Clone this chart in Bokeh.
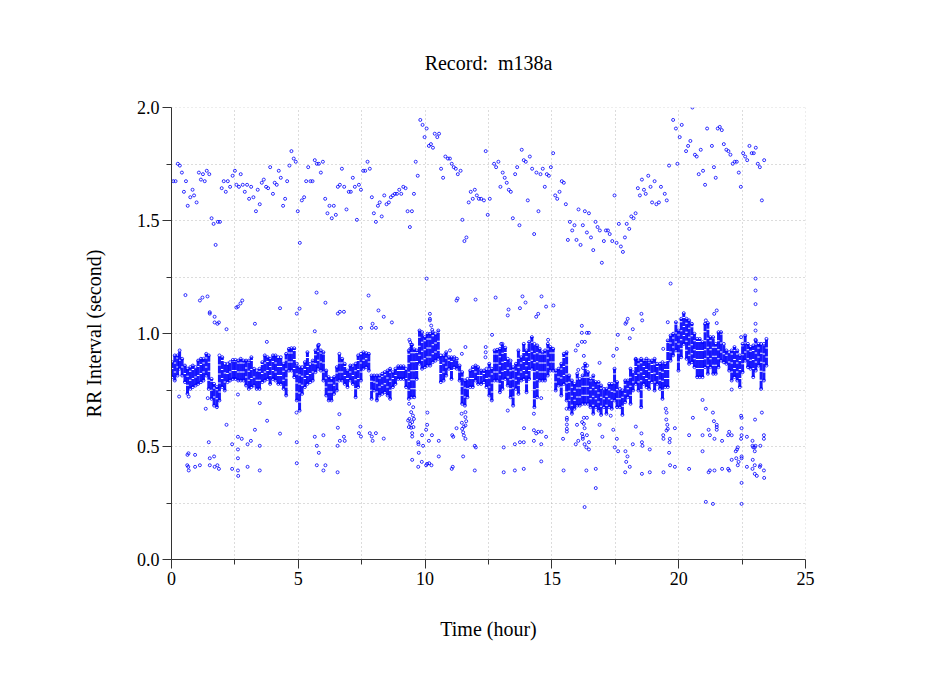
from bokeh.core.properties import value
from bokeh.embed import file_html
from bokeh.models import CustomJSTickFormatter, FixedTicker, Range1d, Span
from bokeh.plotting import figure
from bokeh.resources import INLINE

title_text = "Record:\u00a0 m138a"
x_label = "Time (hour)"
y_label = "RR Interval (second)"
x_major = [0, 5, 10, 15, 20, 25]
x_minor = [2.5, 7.5, 12.5, 17.5, 22.5]
y_major = [0.0, 0.5, 1.0, 1.5, 2.0]
y_minor = [0.25, 0.75, 1.25, 1.75]

band_hours = [
    .03, .13, .24, .32, .42, .53, .63, .74, .84, .95,
    1.05, 1.16, 1.26, 1.37, 1.47, 1.58, 1.68, 1.79, 1.89, 2.0,
    2.1, 2.21, 2.31, 2.42, 2.52, 2.63, 2.73, 2.84, 2.94, 3.05,
    3.15, 3.26, 3.36, 3.47, 3.58, 3.68, 3.79, 3.89, 4.0, 4.1,
    4.21, 4.31, 4.42, 4.52, 4.63, 4.73, 4.84, 4.94, 5.05, 5.15,
    5.26, 5.36, 5.47, 5.57, 5.68, 5.78, 5.89, 5.99, 6.1, 6.2,
    6.31, 6.41, 6.52, 6.62, 6.73, 6.83, 6.94, 7.05, 7.15, 7.26,
    7.36, 7.47, 7.57, 7.68, 7.78, 7.89, 7.99, 8.1, 8.2, 8.31,
    8.41, 8.52, 8.62, 8.73, 8.83, 8.94, 9.04, 9.15, 9.25, 9.36,
    9.46, 9.57, 9.67, 9.78, 9.88, 9.99, 10.09, 10.2, 10.3, 10.41,
    10.52, 10.62, 10.73, 10.83, 10.94, 11.04, 11.15, 11.25, 11.36, 11.46,
    11.57, 11.67, 11.78, 11.88, 11.99, 12.09,
    12.21, 12.32, 12.42, 12.53, 12.63, 12.74, 12.84, 12.95, 13.05, 13.16,
    13.26, 13.37, 13.47, 13.58, 13.68, 13.79, 13.89, 14.0, 14.1, 14.21,
    14.31, 14.42, 14.52, 14.63, 14.73, 14.84, 14.94, 15.05, 15.15, 15.26,
    15.37, 15.47, 15.58, 15.68, 15.79, 15.89, 16.0, 16.1, 16.21, 16.31,
    16.42, 16.52, 16.63, 16.73, 16.84, 16.94, 17.05, 17.15, 17.26, 17.36,
    17.47, 17.57, 17.68, 17.78, 17.89, 17.99, 18.1, 18.2, 18.31, 18.41,
    18.52, 18.62, 18.73, 18.83, 18.94, 19.05, 19.15, 19.26, 19.36, 19.47,
    19.57, 19.68, 19.78, 19.89, 19.99, 20.1, 20.2, 20.31, 20.41, 20.52,
    20.62, 20.73, 20.83, 20.94, 21.04, 21.15, 21.25, 21.36, 21.46, 21.57,
    21.67, 21.78, 21.88, 21.99, 22.09, 22.2, 22.31, 22.41, 22.52, 22.62,
    22.73, 22.83, 22.94, 23.04, 23.15, 23.25, 23.36, 23.46,
]
band_high = [
    .873, .903, .903, .925, .888, .858, .844, .851, .858, .851,
    .880, .888, .888, .910, .903, .799, .777, .763, .903, .895,
    .866, .866, .873, .883, .883, .880, .888, .880, .880, .880,
    .895, .844, .836, .844, .873, .903, .895, .888, .903, .903,
    .895, .895, .866, .910, .932, .935, .935, .866, .851, .851,
    .873, .917, .866, .880, .925, .947, .925, .917, .836, .807,
    .799, .807, .851, .910, .888, .866, .836, .858, .858, .866,
    .903, .910, .917, .913, .910, .814, .814, .814, .814, .822,
    .829, .836, .844, .829, .844, .855, .855, .855, .844, .925,
    .950, .930, .925, 1.013, 1.006, .984, .999, .999, 1.006, .999,
    1.013, .903, .903, .917, .895, .895, .895, .888, .858, .829,
    .792, .799, .836, .851, .858, .851,
    .836, .836, .844, .866, .844, .925, .928, .932, .954, .937,
    .888, .880, .851, .866, .925, .895, .954, .925, .962, .984,
    .954, .947, .932, .917, .925, .954, .940, .932, .836, .844,
    .866, .910, .917, .814, .792, .777, .822, .799, .814, .866,
    .829, .799, .814, .785, .785, .770, .755, .755, .777, .777,
    .844, .785, .755, .748, .792, .792, .844, .829, .888, .880,
    .888, .880, .888, .880, .880, .888, .866, .866, .873, .866,
    .969, .991, .999, 1.050, 1.013, 1.065, 1.090, 1.065, 1.058, 1.043,
    .999, .976, .976, .962, 1.043, 1.046, .984, .984, .954, 1.006,
    1.006, .954, .925, .917, .925, .940, .925, .903, .954, .991,
    .954, .940, .947, .969, .954, .954, .954, .976,
]
band_low = [
    .807, .792, .814, .844, .814, .785, .733, .755, .763, .770,
    .777, .785, .792, .814, .755, .711, .681, .674, .704, .763,
    .748, .785, .792, .799, .799, .792, .792, .792, .770, .755,
    .763, .770, .755, .755, .785, .792, .799, .777, .799, .792,
    .777, .777, .755, .726, .836, .836, .807, .704, .659, .733,
    .763, .777, .785, .792, .829, .844, .836, .792, .726, .704,
    .704, .733, .748, .792, .792, .777, .763, .792, .777, .718,
    .763, .792, .844, .851, .836, .711, .748, .704, .726, .733,
    .740, .726, .711, .763, .777, .799, .799, .799, .763, .711,
    .718, .718, .799, .866, .844, .851, .858, .858, .873, .880,
    .888, .785, .792, .814, .844, .799, .851, .844, .792, .689,
    .681, .718, .763, .763, .792, .777,
    .777, .785, .763, .726, .704, .792, .792, .740, .755, .799,
    .770, .718, .681, .755, .733, .792, .799, .740, .799, .844,
    .674, .718, .792, .792, .792, .814, .836, .836, .748, .770,
    .726, .777, .704, .667, .645, .667, .681, .681, .689, .689,
    .689, .674, .645, .674, .659, .640, .674, .645, .674, .667,
    .704, .674, .674, .640, .696, .718, .689, .748, .777, .748,
    .674, .777, .763, .755, .785, .748, .777, .755, .711, .763,
    .763, .880, .903, .925, .836, .895, .954, .888, .866, .873,
    .851, .807, .807, .807, .851, .822, .851, .822, .822, .851,
    .880, .873, .866, .836, .792, .807, .792, .763, .829, .880,
    .851, .844, .807, .836, .858, .755, .792, .858,
]

upper_hours = [
    .07, .16, .25, .33, .41, .49, .57, .64, .74, .83, .89, .99, 1.08, 1.16, 1.24, 1.31, 1.39, 1.49, 1.58, 1.66,
    1.74, 1.83, 1.91, 1.98, 2.06, 2.14, 2.22, 2.31, 2.41, 2.50, 2.56, 2.66, 2.73, 2.81, 2.89, 2.98, 3.06, 3.14, 3.23, 3.33,
    3.40, 3.48, 3.56, 3.64, 3.73, 3.81, 3.89, 4.0, 4.07, 4.15, 4.23, 4.31, 4.40, 4.48, 4.56, 4.65, 4.73, 4.82, 4.90, 4.98,
    5.06, 5.14, 5.23, 5.31, 5.39, 5.48, 5.56, 5.65, 5.73, 5.81, 5.89, 5.97, 6.06, 6.15, 6.23, 6.32, 6.40, 6.48, 6.56, 6.64,
    6.72, 6.81, 6.90, 6.99, 7.07, 7.15, 7.23, 7.31, 7.39, 7.47, 7.56, 7.64, 7.73, 7.82, 7.90, 7.98, 8.06, 8.14, 8.21, 8.29,
    8.39, 8.48, 8.57, 8.65, 8.73, 8.81, 8.89, 8.98, 9.06, 9.14, 9.23, 9.31, 9.40, 9.48, 9.56, 9.63, 9.71, 9.81, 9.90, 9.98,
    10.06, 10.15, 10.23, 10.31, 10.38, 10.48, 10.55, 10.63, 10.71, 10.80, 10.90, 10.98, 11.05, 11.13, 11.21, 11.29, 11.40, 11.47, 11.55, 11.63,
    11.72, 11.80, 11.88, 11.96, 12.04, 12.12,
    12.21, 12.32, 12.39, 12.47, 12.55, 12.72, 12.80, 12.89, 12.97, 13.06, 13.14, 13.22, 13.30, 13.38, 13.46, 13.55, 13.63, 13.72, 13.81, 13.89,
    13.97, 14.05, 14.13, 14.22, 14.30, 14.39, 14.47, 14.55, 14.64, 14.72, 14.80, 14.88, 14.96, 15.05, 15.13, 15.21, 15.30, 15.39, 15.47, 15.55,
    15.63, 15.71, 15.80, 15.89, 15.97, 16.05, 16.13, 16.22, 16.30, 16.38, 16.46, 16.54, 16.63, 16.72, 16.80, 16.89, 16.97, 17.05, 17.13, 17.21,
    17.28, 17.38, 17.47, 17.55, 17.64, 17.72, 17.80, 17.88, 17.95, 18.05, 18.13, 18.22, 18.30, 18.39, 18.47, 18.55, 18.63, 18.70, 18.80, 18.89,
    18.95, 19.05, 19.12, 19.22, 19.30, 19.45, 19.53, 19.62, 19.78, 19.89, 19.95, 20.04, 20.12, 20.29, 20.37, 20.46, 20.54, 20.64, 20.71, 20.79,
    20.87, 20.96, 21.04, 21.12, 21.31, 21.39, 21.46, 21.54, 21.62, 21.70, 21.78, 21.88, 21.96, 22.04, 22.13, 22.21, 22.29, 22.37, 22.45, 22.54,
    22.62, 22.70, 22.79, 22.88, 22.96, 23.04, 23.12, 23.20, 23.28, 23.37,
]
upper_rr = [
    1.674, 1.674, 1.751, 1.743, 1.712, 1.627, 1.674, 1.565, 1.603, 1.636, 1.611, 1.580, 1.712, 1.681, 1.705, 1.674, 1.720, 1.705, 1.510, 1.485,
    1.392, 1.494, 1.494, 1.643, 1.674, 1.627, 1.674, 1.649, 1.698, 1.720, 1.658, 1.649, 1.705, 1.658, 1.627, 1.658, 1.596, 1.649, 1.603, 1.541,
    1.636, 1.572, 1.667, 1.681, 1.649, 1.643, 1.736, 1.618, 1.667, 1.658, 1.720, 1.689, 1.565, 1.596, 1.674, 1.743, 1.807, 1.774, 1.760, 1.541,
    1.401, 1.589, 1.603, 1.674, 1.736, 1.674, 1.674, 1.767, 1.751, 1.751, 1.712, 1.760, 1.596, 1.532, 1.565, 1.510, 1.565, 1.525, 1.649, 1.658,
    1.729, 1.649, 1.549, 1.627, 1.627, 1.689, 1.649, 1.503, 1.658, 1.636, 1.720, 1.720, 1.760, 1.729, 1.603, 1.532, 1.494, 1.565, 1.580, 1.518,
    1.611, 1.572, 1.580, 1.603, 1.611, 1.618, 1.618, 1.636, 1.618, 1.649, 1.643, 1.541, 1.471, 1.541, 1.618, 1.760, 1.698, 1.945, 1.923, 1.869,
    1.907, 1.830, 1.838, 1.822, 1.884, 1.869, 1.884, 1.729, 1.689, 1.783, 1.774, 1.774, 1.751, 1.736, 1.729, 1.705, 1.720, 1.503, 1.409, 1.425,
    1.580, 1.627, 1.596, 1.636, 1.611, 1.596,
    1.596, 1.589, 1.807, 1.525, 1.596, 1.751, 1.736, 1.760, 1.649, 1.712, 1.689, 1.667, 1.636, 1.627, 1.510, 1.705, 1.736, 1.479, 1.813, 1.767,
    1.760, 1.589, 1.783, 1.729, 1.440, 1.712, 1.541, 1.705, 1.729, 1.649, 1.705, 1.698, 1.736, 1.798, 1.611, 1.596, 1.627, 1.674, 1.667, 1.572,
    1.414, 1.494, 1.456, 1.479, 1.414, 1.549, 1.392, 1.479, 1.541, 1.447, 1.532, 1.425, 1.369, 1.494, 1.471, 1.456, 1.313, 1.409, 1.456, 1.456,
    1.440, 1.409, 1.611, 1.401, 1.485, 1.385, 1.361, 1.425, 1.485, 1.463, 1.518, 1.510, 1.532, 1.643, 1.611, 1.681, 1.636, 1.618, 1.698, 1.649,
    1.580, 1.674, 1.572, 1.580, 1.649, 1.618, 1.589, 1.743, 1.945, 1.907, 1.751, 1.869, 1.923, 1.807, 1.830, 1.852, 2.0, 1.791, 1.783, 1.705,
    1.813, 1.720, 1.658, 1.907, 1.830, 1.736, 1.689, 1.907, 1.914, 1.900, 1.838, 1.813, 1.807, 1.791, 1.751, 1.760, 1.760, 1.712, 1.649, 1.798,
    1.783, 1.767, 1.830, 1.798, 1.798, 1.822, 1.751, 1.736, 1.589, 1.767,
]

middle_hours = [
    .55, 1.22, 1.42, 2.56, 2.72, 5.05, 5.72, 7.77, 8.16, 19.68, 12.78, 11.99, 11.28, 13.29, 13.84, 14.59, 13.96, 15.06, 10.06, 23.03, 23.03, 23.03,
    1.12, 2.79, 11.24,
    1.51, 1.51, 1.70, 1.70, 1.81, 1.87, 2.17, 2.62, 3.29, 3.76, 4.28, 4.94, 5.65, 5.81, 6.07, 6.56, 6.64, 6.80, 7.47, 7.90, 7.93, 8.06, 8.37, 8.69,
    10.19, 10.19, 10.19, 10.24, 10.28, 9.38, 9.41, 9.49, 9.42, 10.98, 11.59, 11.45,
    12.64, 13.26, 13.74, 14.38, 14.46, 14.77, 12.39, 12.39, 12.38, 13.0, 14.85, 16.18, 16.18, 16.38, 16.46, 16.18, 16.30, 16.02, 15.94, 16.26, 16.88,
    16.04, 16.23, 16.39, 17.9, 17.99, 17.94, 18.19, 17.6, 18.07, 18.53, 18.56, 17.56, 17.42, 19.57, 19.39, 21.07, 21.5, 21.4, 21.5, 22.46, 23.03, 23.03, 23.03, 18.3,
]
middle_rr = [
    1.17, 1.159, 1.164, 1.115, 1.133, 1.11, 1.181, 1.168, 1.102, 1.221, 1.159, 1.15, 1.155, 1.106, 1.164, 1.164, 1.137, 1.124, 1.243, 1.243, 1.19, 1.13,
    1.146, 1.146, 1.146,
    1.094, 1.088, 1.074, 1.049, 1.043, 1.049, 1.019, 1.119, 1.043, .963, 1.112, 1.088, 1.010, .950, 1.136, 1.088, 1.096, 1.096, 1.025, 1.025, 1.043, 1.025, 1.074, 1.049,
    1.087, 1.065, 1.058, 1.035, 1.016, .972, .962, .950, .932, .925, .940, .910,
    .994, 1.080, 1.112, 1.074, 1.087, 1.119, .940, .917, .895, .954, .972, 1.034, 1.003, 1.003, 1.003, .963, .963, .948, .925, .901, .870,
    .839, .847, .858, 1.043, 1.065, 1.050, 1.019, .994, .979, 1.087, 1.058, .932, .901, 1.050, .932, 1.058, 1.102, 1.087, 1.046, .984, 1.043, 1.013, .972, .885,
]

lower_hours = [
    .30, .68, 1.35, 1.43, 2.62, 3.48, 2.17, 3.29, 3.77, 4.93, 4.28, 6.62, 6.56, 7.45, 7.39, 7.47, 7.82, 7.90, 8.06, 7.93,
    8.37, 1.47, 2.62, 2.77, 2.39, 3.0, 3.13, 3.48, 4.94, 5.65, 5.99, 6.80, 6.64, 6.83, 5.73, 6.55, 2.62, .67, .63, .93,
    1.51, 1.68, 2.62, 5.81, .62, .66, .68, .93, 1.12, 1.51, 1.70, 1.81, 1.87, 2.39, 2.62, 2.63, 3.0, 3.48, 4.94, 5.73,
    6.07, 5.99, 6.55,
    9.37, 9.45, 9.53, 9.38, 9.52, 9.33, 9.49, 9.41, 9.56, 9.36, 9.45, 9.54, 9.49, 9.49, 9.88, 10.09, 10.08, 10.04, 10.27, 9.73,
    9.74, 9.92, 10.15, 10.54, 9.75, 9.49, 9.87, 10.08, 10.16, 10.04, 10.25, 9.73, 10.54,
    11.07, 11.11, 11.24, 11.44, 11.45, 11.59, 11.59, 11.62, 11.53, 11.46, 11.59, 11.50, 11.53, 11.59, 11.96, 12.0, 11.50, 11.09, 11.05, 11.96,
    14.29, 14.58, 13.26, 13.9, 14.29, 14.46, 14.38, 14.59, 14.77, 14.29, 14.58, 13.54, 13.74, 13.89, 13.1, 14.58, 13.89, 13.54, 13.1,
    15.59, 15.59, 15.58, 15.59, 15.59, 15.59, 15.44, 15.46, 15.99, 16.19, 16.26, 16.38, 16.26, 16.29, 16.19, 16.22, 16.38, 16.22, 16.04, 15.94,
    16.29, 16.46, 16.36, 16.46, 16.88, 16.99, 17.32, 17.42, 17.56, 17.48, 17.61, 16.36, 16.73, 16.73, 16.29,
    17.9, 17.98, 17.93, 18.07, 17.89, 18.31, 18.53, 18.55, 18.57, 18.19, 18.86, 18.55, 18.86, 19.4,
    19.49, 19.52, 19.51, 19.55, 19.57, 19.52, 19.85, 19.39, 19.4, 19.65, 19.64, 19.62, 19.66, 19.85, 20.41, 20.41, 20.56,
    20.94, 21.07, 21.35, 21.39, 21.5, 21.5, 21.5, 21.18, 20.94, 21.23, 21.41, 21.71, 21.95, 21.99, 22.09, 20.94, 22.09,
    22.46, 22.48, 22.48, 22.48, 23.01, 23.28, 22.69, 22.91, 22.46, 23.36, 23.36, 22.33, 22.3, 22.25, 22.27, 22.09, 22.48, 22.48, 22.36, 22.33,
    22.69, 22.91, 23.0, 23.03, 23.22, 22.94, 23.0, 22.92, 23.0, 23.22, 23.2, 22.91, 23.36, 23.0, 23.08, 23.37, 22.48, 22.48, 21.07, 21.35,
    21.18, 21.23, 21.41, 21.71, 21.95, 21.99,
]
lower_rr = [
    .721, .721, .667, .714, .730, .692, .596, .574, .614, .650, .557, .643, .583, .588, .559, .544, .559, .544, .559, .525,
    .535, .519, .543, .534, .510, .510, .525, .503, .519, .543, .550, .543, .525, .525, .503, .503, .487, .470, .463, .463,
    .448, .456, .448, .472, .417, .410, .394, .410, .417, .417, .410, .417, .401, .401, .394, .370, .410, .394, .426, .417,
    .417, .394, .386,
    .689, .652, .674, .622, .637, .615, .608, .600, .622, .586, .583, .586, .559, .544, .550, .650, .596, .574, .550, .519,
    .510, .503, .525, .525, .472, .441, .432, .423, .426, .417, .417, .410, .456,
    .550, .543, .581, .645, .605, .652, .630, .612, .588, .578, .593, .563, .549, .534, .503, .496, .456, .410, .401, .394,
    .645, .714, .659, .581, .572, .565, .558, .565, .543, .525, .510, .510, .519, .519, .496, .434, .401, .394, .386,
    .627, .618, .667, .597, .578, .566, .534, .394, .596, .608, .627, .627, .600, .581, .556, .543, .550, .534, .525, .510,
    .510, .519, .496, .487, .596, .543, .636, .574, .534, .496, .479, .394, .401, .316, .232,
    .479, .456, .432, .410, .386, .588, .558, .519, .503, .510, .487, .379, .386, .386,
    .667, .650, .619, .596, .578, .571, .581, .550, .534, .534, .519, .472, .417, .410, .550, .401, .627,
    .706, .667, .650, .612, .596, .586, .574, .574, .550, .550, .534, .525, .550, .565, .550, .479, .752,
    .636, .627, .581, .550, .619, .650, .543, .525, .534, .550, .534, .496, .487, .479, .448, .441, .456, .448, .432, .417,
    .410, .503, .496, .503, .503, .496, .479, .441, .417, .417, .410, .401, .394, .379, .370, .361, .339, .246, .255, .246,
    .386, .394, .394, .401, .401, .394,
]

serif = "Liberation Serif"
blue = "#0000ff"
ink = "#333333"
grid = "#b8b8b8"

p = figure(
    width=940, height=690, output_backend="svg", toolbar_location=None,
    x_range=Range1d(0, 25), y_range=Range1d(0, 2),
    min_border_left=171, min_border_right=135, min_border_top=107, min_border_bottom=131,
    title=title_text,
)
p.outline_line_color = None
p.title.align = "center"
p.title.text_font = serif
p.title.text_font_size = "20px"
p.title.text_font_style = "normal"
p.title.text_color = "#000000"
p.title.standoff = 68

p.xaxis.ticker = FixedTicker(ticks=x_major, minor_ticks=x_minor)
p.yaxis.ticker = FixedTicker(ticks=y_major, minor_ticks=y_minor)
p.yaxis.formatter = CustomJSTickFormatter(code="return tick.toFixed(1)")
p.xaxis.axis_label = x_label
p.yaxis.axis_label = y_label
for ax in (p.xaxis, p.yaxis):
    ax.axis_label_text_font = serif
    ax.axis_label_text_font_size = "20px"
    ax.axis_label_text_font_style = "normal"
    ax.axis_label_text_color = "#000000"
    ax.major_label_text_font = serif
    ax.major_label_text_font_size = "18px"
    ax.major_label_text_color = "#000000"
    ax.axis_line_color = ink
    ax.major_tick_line_color = ink
    ax.minor_tick_line_color = ink
    ax.major_tick_in = 0
    ax.major_tick_out = 9
    ax.minor_tick_in = 0
    ax.minor_tick_out = 5
p.xaxis.axis_label_standoff = 30
p.yaxis.axis_label_standoff = 29
p.xaxis.major_label_standoff = 3
p.yaxis.major_label_standoff = 3
p.yaxis.major_label_orientation = "horizontal"

for g in (p.xgrid, p.ygrid):
    g.grid_line_color = grid
    g.grid_line_dash = [1, 3]
    g.minor_grid_line_color = grid
    g.minor_grid_line_dash = [1, 3]
    g.level = "underlay"
p.add_layout(Span(location=y_major[-1], dimension="width", line_color=grid, line_dash=[1, 3], line_width=1, level="underlay"))
p.add_layout(Span(location=x_major[-1], dimension="height", line_color=grid, line_dash=[1, 3], line_width=1, level="underlay"))

band = p.segment(band_hours, band_low, band_hours, band_high, line_color=blue, line_width=3, line_alpha=0.9)
band.glyph.line_dash = value([8, 1])
for xs, ys in ((band_hours, band_high), (band_hours, band_low), (upper_hours, upper_rr), (middle_hours, middle_rr), (lower_hours, lower_rr)):
    p.scatter(xs, ys, marker="circle", size=3, fill_color=None, line_color=blue, line_width=1, line_alpha=0.8)

open("out.html", "w").write(file_html(p, INLINE))
